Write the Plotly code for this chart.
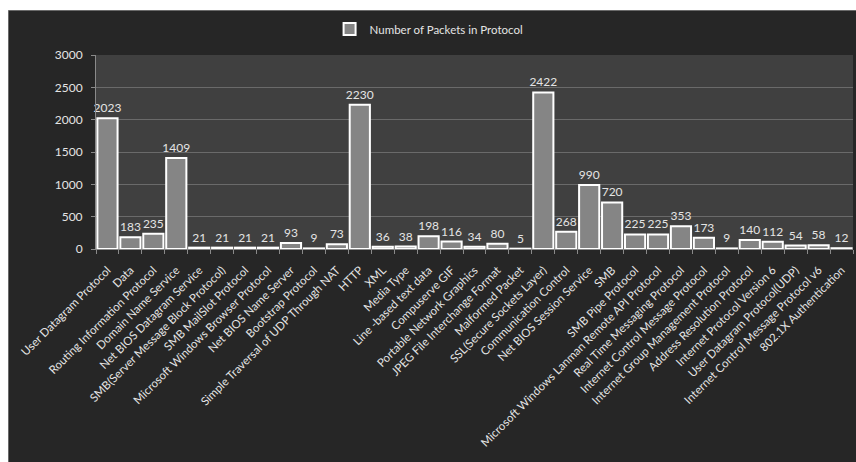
import plotly.graph_objects as go

# Protocol names and packet counts
protocols = [
    "User Datagram Protocol", "Data", "Routing Information Protocol",
    "Domain Name Service", "Net BIOS Datagram Service",
    "SMB(Server Message Block Protocol)", "SMB MailSlot Protocol",
    "Microsoft Windows Browser Protocol", "Net BIOS Name Server",
    "Bootstrap Protocol", "Simple Traversal of UDP Through NAT", "HTTP",
    "XML", "Media Type", "Line -based text data", "Compuserve GIF",
    "Portable Network Graphics", "JPEG File Interchange Format",
    "Malformed Packet", "SSL(Secure Sockets Layer)", "Communication Control",
    "Net BIOS Session Service", "SMB", "SMB Pipe Protocol",
    "Microsoft Windows Lanman Remote API Protocol",
    "Real Time Messaging Protocol", "Internet Control Message Protocol",
    "Internet Group Management Protocol", "Address Resolution Protocol",
    "Internet Protocol Version 6", "User Datagram Protocol(UDP)",
    "Internet Control Message Protocol v6", "802.1X Authentication",
]
packets = [
    2023, 183, 235, 1409, 21, 21, 21, 21, 93, 9, 73, 2230, 36, 38, 198, 116,
    34, 80, 5, 2422, 268, 990, 720, 225, 225, 353, 173, 9, 140, 112, 54, 58, 12,
]
y_ticks = [0, 500, 1000, 1500, 2000, 2500, 3000]

W, H = 856, 462
ML, MR, MT, MB = 96, 3, 55, 213
pw, ph = W - ML - MR, H - MT - MB


def px_x(p):
    return (p - ML) / pw


def px_y(p):
    return (H - MB - p) / ph


FONT = "Lato, Calibri, sans-serif"
TXT = "#e4e4e4"

fig = go.Figure()
fig.add_trace(go.Bar(
    x=protocols,
    y=packets,
    name="Number of Packets in Protocol",
    marker=dict(color="#858585", line=dict(color="#ffffff", width=2)),
    text=packets,
    textposition="outside",
    constraintext="none",
    textfont=dict(family=FONT, size=12, color=TXT),
    cliponaxis=False,
))

fig.update_layout(
    width=W, height=H,
    margin=dict(l=ML, r=MR, t=MT, b=MB, autoexpand=False),
    paper_bgcolor="#ffffff",
    plot_bgcolor="rgba(0,0,0,0)",
    bargap=0.12,
    font=dict(family=FONT, color=TXT, size=11),
    showlegend=True,
    legend=dict(
        orientation="h", x=0.44, xanchor="center", y=px_y(29), yanchor="middle",
        font=dict(family=FONT, size=11.5, color=TXT),
        bgcolor="rgba(0,0,0,0)", itemwidth=30,
    ),
    shapes=[
        # dark chart background with thin border
        dict(type="rect", xref="paper", yref="paper", layer="below",
             x0=px_x(8.5), x1=px_x(858), y0=px_y(464), y1=px_y(10.5),
             fillcolor="#262626", line=dict(color="#6a6a6a", width=1)),
        # plot area
        dict(type="rect", xref="paper", yref="paper", layer="below",
             x0=0, x1=1, y0=0, y1=1,
             fillcolor="#404040", line=dict(width=0)),
    ],
)

fig.update_xaxes(
    type="category", tickangle=-45, automargin=False,
    tickson="boundaries", ticks="outside", ticklen=4, tickcolor="#8a8a8a",
    ticklabelstandoff=9,
    showline=True, linecolor="#8a8a8a", linewidth=1,
    showgrid=False,
    tickfont=dict(family=FONT, size=11.5, color=TXT),
)
fig.update_yaxes(
    range=[0, 3000], tickvals=y_ticks, automargin=False,
    ticks="outside", ticklen=4, tickcolor="#8a8a8a",
    ticklabelstandoff=6,
    showline=True, linecolor="#8a8a8a", linewidth=1,
    showgrid=True, gridcolor="#6a6a6a", gridwidth=1,
    zeroline=False,
    tickfont=dict(family=FONT, size=12, color=TXT),
)

fig.write_html("out.html")
